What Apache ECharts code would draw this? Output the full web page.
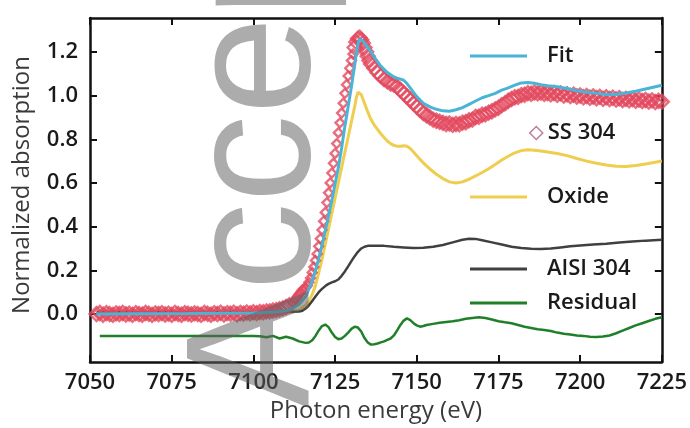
<!DOCTYPE html>
<html>
<head>
<meta charset="utf-8">
<script src="https://cdn.jsdelivr.net/npm/echarts@6/dist/echarts.min.js"></script>
<style>
html,body{margin:0;padding:0;background:#fff;}
#chart{width:690px;height:428px;}
</style>
</head>
<body>
<div id="chart"></div>
<script>
// ---- Data ----
const xTicks = [7050, 7075, 7100, 7125, 7150, 7175, 7200, 7225];
const yTicks = [0.0, 0.2, 0.4, 0.6, 0.8, 1.0, 1.2];
const seriesNames = ['Fit', 'SS 304', 'Oxide', 'AISI 304', 'Residual'];

// SS 304 measured points [energy eV, normalized absorption]
const ss304 = [
 [7052,0.0],[7053,0.005],[7054,-0.003],[7055,0.004],[7056,0.0],[7057,-0.004],[7058,0.003],[7059,0.0],[7060,0.005],[7061,-0.002],
 [7062,0.002],[7063,-0.004],[7064,0.004],[7065,0.0],[7066,-0.003],[7067,0.005],[7068,0.001],[7069,-0.004],[7070,0.003],[7071,0.0],
 [7072,0.004],[7073,-0.002],[7074,0.002],[7075,-0.004],[7076,0.005],[7077,0.0],[7078,-0.003],[7079,0.004],[7080,0.001],[7081,-0.002],
 [7082,0.003],[7083,0.0],[7084,-0.004],[7085,0.005],[7086,0.001],[7087,-0.003],[7088,0.004],[7089,0.0],[7090,0.006],[7091,-0.002],
 [7092,0.004],[7093,0.001],[7094,0.006],[7095,-0.001],[7096,0.005],[7097,0.002],[7098,0.007],[7099,0.003],[7100,0.008],[7101,0.004],
 [7102,0.009],[7103,0.008],[7104,0.012],[7105,0.012],[7106,0.016],[7107,0.018],[7108,0.022],[7109,0.026],[7110,0.032],[7111,0.04],
 [7112,0.05],[7112.5,0.06],[7113,0.07],[7113.5,0.08],[7114,0.09],[7114.5,0.10],[7115,0.11],[7115.5,0.115],[7116,0.12],[7116.5,0.13],
 [7117,0.145],[7117.5,0.165],[7118,0.19],[7118.5,0.215],[7119,0.245],[7119.5,0.275],[7120,0.31],[7120.5,0.345],[7121,0.385],[7121.5,0.425],
 [7122,0.465],[7122.5,0.51],[7123,0.555],[7123.5,0.60],[7124,0.645],[7124.5,0.69],[7125,0.735],[7125.5,0.78],[7126,0.83],[7126.5,0.875],
 [7127,0.92],[7127.5,0.965],[7128,1.01],[7128.5,1.05],[7129,1.09],[7129.5,1.125],[7130,1.16],[7130.5,1.19],[7131,1.22],[7131.5,1.245],
 [7132,1.26],[7132.5,1.265],[7133,1.255],[7133.5,1.24],[7134,1.22],[7134.5,1.2],[7135,1.18],[7135.5,1.16],[7136,1.145],
 [7137,1.125],[7138,1.105],[7139,1.09],[7140,1.075],[7141,1.065],[7142,1.055],[7143,1.05],[7144,1.04],[7145,1.025],[7146,1.01],
 [7147,0.995],[7148,0.98],[7149,0.965],[7150,0.95],[7151,0.935],[7152,0.92],[7153,0.91],[7154,0.90],[7155,0.89],[7156,0.885],
 [7157,0.88],[7158,0.875],[7159,0.87],[7160,0.872],[7161,0.866],[7162,0.87],[7163,0.868],[7164,0.876],[7165,0.878],[7166,0.887],
 [7167,0.89],[7168,0.902],[7169,0.903],[7170,0.912],[7171,0.914],[7172,0.922],[7173,0.928],[7174,0.937],[7175,0.944],[7176,0.956],
 [7177,0.964],[7178,0.976],[7179,0.984],[7180,0.992],[7181,0.994],[7182,1.002],[7183,1.004],[7184,1.011],[7185,1.008],[7186,1.014],
 [7187,1.01],[7188,1.014],[7189,1.008],[7190,1.012],[7191,1.006],[7192,1.012],[7193,1.004],[7194,1.01],[7195,1.0],[7196,1.006],
 [7197,0.998],[7198,1.004],[7199,0.996],[7200,1.0],[7201,0.992],[7202,0.998],[7203,0.99],[7204,0.996],[7205,0.988],[7206,0.994],
 [7207,0.985],[7208,0.992],[7209,0.984],[7210,0.99],[7211,0.982],[7212,0.988],[7213,0.98],[7214,0.985],[7215,0.978],[7216,0.984],
 [7217,0.976],[7218,0.982],[7219,0.975],[7220,0.98],[7221,0.972],[7222,0.978],[7223,0.97],[7224,0.976],[7225,0.972]
];

// Fit curve
const fitCurve = [
 [7052,0.0],[7080,0.002],[7100,0.005],[7108,0.01],[7110,0.015],[7112,0.025],[7114,0.045],[7116,0.08],[7118,0.15],[7119,0.2],
 [7120,0.255],[7121,0.315],[7122,0.38],[7123,0.45],[7124,0.52],[7125,0.595],[7126,0.67],[7127,0.76],[7128,0.86],[7129,0.95],
 [7130,1.04],[7130.5,1.09],[7131,1.14],[7131.5,1.19],[7132,1.235],[7132.5,1.26],[7133,1.258],[7133.5,1.25],[7134,1.24],[7135,1.22],
 [7136,1.2],[7137,1.175],[7138,1.155],[7139,1.135],[7140,1.12],[7141,1.105],[7142,1.095],[7143,1.085],[7144,1.08],[7145,1.075],
 [7146,1.07],[7147,1.055],[7148,1.035],[7149,1.015],[7150,0.995],[7152,0.965],[7154,0.948],[7156,0.937],[7158,0.93],[7160,0.928],
 [7162,0.935],[7164,0.945],[7166,0.96],[7168,0.975],[7170,0.99],[7172,1.0],[7174,1.01],[7176,1.025],[7178,1.035],[7180,1.048],
 [7182,1.058],[7184,1.06],[7186,1.056],[7188,1.05],[7190,1.045],[7193,1.04],[7196,1.032],[7199,1.022],[7202,1.015],[7205,1.01],
 [7208,1.005],[7211,1.005],[7214,1.012],[7217,1.02],[7220,1.03],[7223,1.04],[7225,1.047]
];

// Oxide component
const oxideCurve = [
 [7052,0.0],[7100,0.0],[7110,0.005],[7112,0.01],[7114,0.02],[7116,0.04],[7117,0.06],[7118,0.09],[7119,0.13],[7120,0.19],
 [7121,0.25],[7122,0.32],[7123,0.39],[7124,0.46],[7125,0.53],[7126,0.6],[7127,0.67],[7128,0.74],[7129,0.81],[7130,0.88],
 [7131,0.95],[7131.5,0.99],[7132,1.015],[7132.5,1.02],[7133,1.005],[7134,0.965],[7135,0.925],[7136,0.89],[7137,0.865],[7138,0.845],
 [7139,0.825],[7140,0.808],[7141,0.792],[7142,0.78],[7143,0.772],[7144,0.768],[7145,0.768],[7146,0.77],[7147,0.768],[7148,0.758],
 [7149,0.742],[7150,0.725],[7151,0.708],[7152,0.692],[7154,0.664],[7156,0.64],[7158,0.62],[7160,0.605],[7162,0.6],[7164,0.605],
 [7166,0.617],[7168,0.632],[7170,0.648],[7172,0.665],[7174,0.685],[7176,0.705],[7178,0.722],[7180,0.738],[7182,0.748],[7184,0.752],
 [7186,0.75],[7188,0.746],[7190,0.742],[7193,0.735],[7196,0.725],[7199,0.712],[7202,0.7],[7205,0.69],[7208,0.682],[7211,0.676],
 [7214,0.675],[7217,0.68],[7220,0.687],[7223,0.695],[7225,0.7]
];

// AISI 304 component
const aisiCurve = [
 [7052,0.01],[7080,0.01],[7100,0.01],[7112,0.01],[7114,0.012],[7115,0.015],[7116,0.025],[7117,0.04],[7118,0.06],[7119,0.08],
 [7120,0.1],[7121,0.115],[7122,0.128],[7123,0.138],[7124,0.145],[7125,0.15],[7126,0.158],[7127,0.175],[7128,0.195],[7129,0.218],
 [7130,0.242],[7131,0.265],[7132,0.285],[7133,0.3],[7134,0.308],[7135,0.312],[7137,0.313],[7140,0.312],[7143,0.308],[7146,0.305],
 [7149,0.302],[7152,0.303],[7155,0.308],[7158,0.316],[7161,0.328],[7164,0.34],[7166,0.345],[7168,0.344],[7170,0.338],[7173,0.328],
 [7176,0.318],[7179,0.308],[7182,0.302],[7185,0.299],[7188,0.298],[7191,0.3],[7194,0.305],[7197,0.31],[7200,0.314],[7204,0.318],
 [7208,0.322],[7212,0.327],[7216,0.332],[7220,0.336],[7225,0.34]
];

// Residual
const residualCurve = [
 [7053,-0.10],[7070,-0.10],[7090,-0.10],[7100,-0.10],[7102,-0.102],[7104,-0.106],[7106,-0.1],[7108,-0.112],[7110,-0.104],[7112,-0.112],
 [7114,-0.125],[7116,-0.132],[7117,-0.13],[7118,-0.12],[7119,-0.1],[7120,-0.075],[7121,-0.055],[7122,-0.048],[7123,-0.06],[7124,-0.085],
 [7125,-0.105],[7126,-0.115],[7127,-0.112],[7128,-0.1],[7129,-0.085],[7130,-0.068],[7131,-0.058],[7132,-0.062],[7133,-0.08],[7134,-0.11],
 [7135,-0.13],[7136,-0.14],[7137,-0.138],[7138,-0.135],[7139,-0.13],[7140,-0.125],[7141,-0.118],[7142,-0.112],[7143,-0.098],[7144,-0.075],
 [7145,-0.05],[7146,-0.03],[7147,-0.02],[7148,-0.028],[7149,-0.042],[7150,-0.052],[7151,-0.058],[7152,-0.055],[7153,-0.05],[7155,-0.045],
 [7157,-0.04],[7159,-0.036],[7161,-0.033],[7163,-0.028],[7165,-0.022],[7167,-0.018],[7169,-0.015],[7171,-0.018],[7173,-0.025],[7175,-0.033],
 [7177,-0.038],[7179,-0.042],[7181,-0.05],[7183,-0.058],[7185,-0.064],[7187,-0.07],[7189,-0.073],[7191,-0.078],[7193,-0.085],[7195,-0.09],
 [7197,-0.094],[7199,-0.098],[7201,-0.1],[7203,-0.104],[7205,-0.105],[7207,-0.103],[7209,-0.098],[7211,-0.088],[7213,-0.076],[7215,-0.064],
 [7217,-0.052],[7219,-0.042],[7221,-0.032],[7223,-0.022],[7225,-0.015]
];

const watermarkText = 'Accepted';

// ---- Chart ----
const FONT = '"Open Sans", "Liberation Sans", sans-serif';
const AXIS_COLOR = '#111';
const chart = echarts.init(document.getElementById('chart'), null, {renderer: 'canvas'});

function tickLabelStyle() { return {fontFamily: FONT, fontSize: 22, fontWeight: 600, color: '#1a1a1a'}; }
function tickStyle(vals) { return {show: true, inside: true, length: 7, customValues: vals.slice(), lineStyle: {color: AXIS_COLOR, width: 2}}; }
function lineAxis() { return {show: true, onZero: false, lineStyle: {color: AXIS_COLOR, width: 2.5}}; }

function mkLegend(name, top, left, extra) {
  return Object.assign({
    data: [name], top: top, left: left, orient: 'vertical', padding: 0,
    icon: 'rect', itemWidth: 57, itemHeight: 3,
    textStyle: {fontFamily: FONT, fontSize: 22, fontWeight: 600, color: '#1a1a1a', lineHeight: 24, padding: [0, 0, 0, 15]},
    selectedMode: false
  }, extra || {});
}

const option = {
  animation: false,
  backgroundColor: '#fff',
  grid: {left: 90, right: 28, top: 18, bottom: 62, containLabel: false},
  xAxis: [{
    type: 'value', position: 'bottom', min: xTicks[0], max: xTicks[xTicks.length - 1], interval: 25,
    name: 'Photon energy (eV)', nameLocation: 'middle', nameGap: 33,
    nameTextStyle: {fontFamily: FONT, fontSize: 24, color: '#3a3a3a'},
    axisLine: lineAxis(),
    axisTick: tickStyle(xTicks),
    axisLabel: Object.assign({margin: 10, customValues: xTicks.slice(), formatter: v => String(v)}, tickLabelStyle()),
    splitLine: {show: false}
  }, {
    type: 'value', position: 'top', min: xTicks[0], max: xTicks[xTicks.length - 1], interval: 25,
    axisLine: lineAxis(),
    axisTick: tickStyle(xTicks),
    axisLabel: {show: false}, splitLine: {show: false}
  }],
  yAxis: [{
    type: 'value', position: 'left', min: -0.22, max: 1.355,
    name: 'Normalized absorption', nameLocation: 'middle', nameGap: 56, nameRotate: 90,
    nameTextStyle: {fontFamily: FONT, fontSize: 24, color: '#3a3a3a', padding: [0, 0, 0, 10]},
    axisLine: lineAxis(),
    axisTick: tickStyle(yTicks),
    axisLabel: Object.assign({margin: 12, customValues: yTicks.slice(), formatter: v => v.toFixed(1)}, tickLabelStyle()),
    splitLine: {show: false}
  }, {
    type: 'value', position: 'right', min: -0.22, max: 1.355,
    axisLine: lineAxis(),
    axisTick: tickStyle(yTicks),
    axisLabel: {show: false}, splitLine: {show: false}
  }],
  legend: [
    mkLegend(seriesNames[0], 44, 470),
    mkLegend(seriesNames[1], 121, 529, {
      icon: 'diamond', itemWidth: 13, itemHeight: 13,
      itemStyle: {color: 'rgba(0,0,0,0)', borderColor: '#a8607f', borderWidth: 1.5},
      textStyle: {fontFamily: FONT, fontSize: 22, fontWeight: 600, color: '#1a1a1a', lineHeight: 24}
    }),
    mkLegend(seriesNames[2], 185, 470),
    mkLegend(seriesNames[3], 257, 470),
    mkLegend(seriesNames[4], 291, 470)
  ],
  graphic: [{
    type: 'text', x: 348, y: 408, rotation: Math.PI / 2, z: 100, silent: true,
    style: {text: watermarkText, font: '176px "Liberation Sans", Arial, sans-serif',
            fill: 'rgba(95,95,95,0.52)', align: 'left', verticalAlign: 'bottom'}
  }],
  series: [
    {name: seriesNames[2], type: 'line', data: oxideCurve, showSymbol: false, z: 2,
     lineStyle: {color: '#efcd4e', width: 3}, itemStyle: {color: '#efcd4e'}},
    {name: seriesNames[3], type: 'line', data: aisiCurve, showSymbol: false, z: 3,
     lineStyle: {color: '#404040', width: 2.5}, itemStyle: {color: '#404040'}},
    {name: seriesNames[4], type: 'line', data: residualCurve, showSymbol: false, z: 3,
     lineStyle: {color: '#1f8029', width: 2.5}, itemStyle: {color: '#1f8029'}},
    {name: seriesNames[1], type: 'scatter', data: ss304, symbol: 'diamond', z: 4,
     symbolSize: v => (v[0] > 7111.5 && v[0] < 7131) ? 9 : 14,
     itemStyle: {color: 'rgba(0,0,0,0)', borderColor: '#e2485e', borderWidth: 2.4}},
    {name: seriesNames[0], type: 'line', data: fitCurve, showSymbol: false, z: 5,
     lineStyle: {color: '#4ab4d6', width: 3}, itemStyle: {color: '#4ab4d6'}}
  ]
};
chart.setOption(option);
</script>
</body>
</html>
